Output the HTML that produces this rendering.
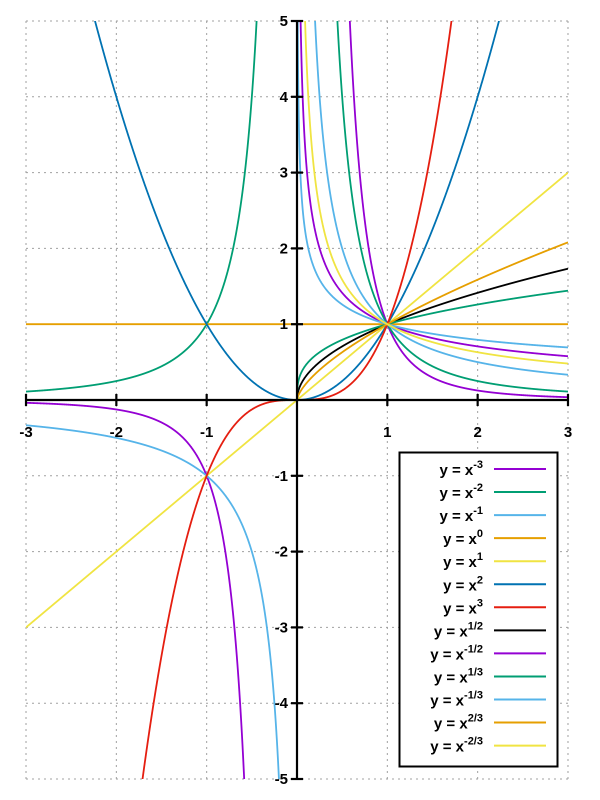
<!DOCTYPE html>
<html><head><meta charset="utf-8"><style>
html,body{margin:0;background:#fff;width:600px;height:800px;overflow:hidden;}
svg{display:block;font-family:"Liberation Sans",sans-serif;font-weight:bold;}
</style></head><body>
<svg id="s" width="600" height="800" xmlns="http://www.w3.org/2000/svg">
<defs><clipPath id="c"><rect x="26" y="21" width="542" height="758"/></clipPath></defs>
<g id="grid" stroke="#a0a0a0" stroke-width="1" stroke-dasharray="2,4" fill="none"></g>
<g id="curves" clip-path="url(#c)" fill="none" stroke-width="1.8"></g>
<g id="axes" stroke="#000" stroke-width="2.2"></g>
<g id="labels" font-size="15" fill="#000"></g>
<g id="legend"></g>
</svg>
<script>
var NS="http://www.w3.org/2000/svg";
var x0=297,sx=90.33,y0=400,sy=75.8;
function X(x){return x0+x*sx}function Y(y){return y0-y*sy}
function el(p,t,a,txt){var e=document.createElementNS(NS,t);for(var k in a)e.setAttribute(k,a[k]);if(txt!=null)e.textContent=txt;document.getElementById(p).appendChild(e);return e;}
for(var i=-3;i<=3;i++){el("grid","line",{x1:X(i),x2:X(i),y1:21,y2:779});}
for(var j=-5;j<=5;j++){el("grid","line",{x1:26,x2:568,y1:Y(j),y2:Y(j)});}
var C={p:"#9400d3",g:"#009e73",lb:"#56b4e9",o:"#e69f00",y:"#f0e442",b:"#0072b2",r:"#e51e10",k:"#000"};
var S=[["-3",-3,C.p,1],["-2",-2,C.g,1],["-1",-1,C.lb,1],["0",0,C.o,1],["1",1,C.y,1],["2",2,C.b,1],["3",3,C.r,1],
["1/2",0.5,C.k,0],["-1/2",-0.5,C.p,0],["1/3",1/3,C.g,0],["-1/3",-1/3,C.lb,0],["2/3",2/3,C.o,0],["-2/3",-2/3,C.y,0]];
S.forEach(function(s){
 var n=s[1],d="";
 function seg(a,b){var first=true;var N=3000;for(var k=0;k<=N;k++){var x=a+(b-a)*k/N;if(x==0)x=(b>0?1e-6:-1e-6);var y=Math.pow(x,n);
  if(!isFinite(y))continue;y=Math.max(-60,Math.min(60,y));
  d+=(first?"M":"L")+X(x).toFixed(2)+","+Y(y).toFixed(2);first=false;}}
 if(s[3]&&n>=0){seg(-3,3);}
 else if(s[3]){seg(-3,-0.00001);seg(0.00001,3);}
 else{seg(n>0?0:0.00001,3);}
 el("curves","path",{d:d,stroke:s[2]});
});
el("axes","line",{x1:26,x2:568,y1:y0,y2:y0});
el("axes","line",{x1:x0,x2:x0,y1:21,y2:779});
for(var i=-3;i<=3;i++){if(i)el("axes","line",{x1:X(i),x2:X(i),y1:y0-6,y2:y0+6});
 if(i)el("labels","text",{x:X(i),y:437,"text-anchor":"middle"},String(i));}
for(var j=-5;j<=5;j++){if(j)el("axes","line",{x1:x0-6,x2:x0+6,y1:Y(j),y2:Y(j)});
 if(j)el("labels","text",{x:x0-9,y:Y(j)+5,"text-anchor":"end"},String(j));}
el("legend","rect",{x:399.5,y:452.5,width:158,height:314,fill:"#fff",stroke:"#000","stroke-width":2});
S.forEach(function(s,i){var y=469+i*23.05;
 var t=el("legend","text",{x:483,y:y+6,"text-anchor":"end","font-size":15});
 t.textContent="y = x";var ts=document.createElementNS(NS,"tspan");ts.setAttribute("dy","-7");ts.setAttribute("font-size","11");ts.textContent=s[0];t.appendChild(ts);
 el("legend","line",{x1:494,x2:546,y1:y,y2:y,stroke:s[2],"stroke-width":2});
});
</script>
</body></html>
